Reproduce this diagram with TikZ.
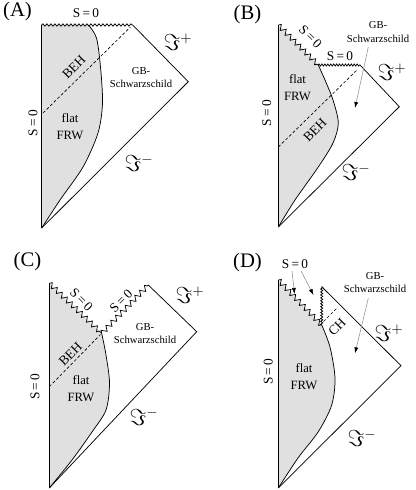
\documentclass[tikz,border=0pt]{standalone}
\usepackage{fontspec}
\setmainfont{Liberation Serif}
\usetikzlibrary{arrows.meta,decorations.pathmorphing}

\begin{document}
\begin{tikzpicture}[x=0.75pt,y=-0.75pt,>=latex,line width=0.55pt,
	frw/.style={fill=black!12},
	zacke/.style={decorate,decoration={zigzag,segment length=5.2pt,amplitude=1.9pt}},
	welle/.style={decorate,decoration={zigzag,segment length=2.2pt,amplitude=0.8pt}},
	schlange/.style={decorate,decoration={snake,segment length=3pt,amplitude=0.9pt}},
	horizont/.style={dash pattern=on 2.2pt off 1.6pt,line width=0.5pt},
	zeiger/.style={-{Latex[length=4.5pt,width=3pt,color=black]},draw=black!45,line width=0.4pt},
	txt/.style={font=\fontsize{8}{10}\selectfont,inner sep=0pt,align=center},
	lbl/.style={font=\fontsize{10}{12.5}\selectfont,inner sep=0pt,align=center},
	frwtxt/.style={font=\fontsize{9.5}{12.5}\selectfont,inner sep=0pt,align=center},
	titel/.style={font=\fontsize{15.5}{16}\selectfont,inner sep=0pt},
	scri/.style={font=\fontsize{16}{17}\selectfont,inner sep=0pt}]

\def\frw#1#2{
	\fill[frw] #1 -- plot[smooth] coordinates {#2} -- cycle;
	\draw plot[smooth] coordinates {#2};
}
\def\Snull{S\,=\,0}

\useasboundingbox (0,0) rectangle (415,490);

% Diagramm (A)
\coordinate (aB) at (41.7,228);
\coordinate (aT) at (41.7,25);
\coordinate (aK) at (132.7,25);
\coordinate (aR) at (188.3,81.7);

\frw{(aB) -- (aT) -- (88.5,25)}{(88.5,25) (96.5,38) (100.5,67) (102.5,103) (98,133) (83,167) (60,200) (41.7,228)}
\draw (aB) -- (aT);
\draw[schlange] (aT) -- (aK);
\draw (aK) -- (aR) -- (aB);
\draw[horizont] (43,113) -- (130.5,27);

\node[titel] (aTitel) at (17.5,12) {(A)};
\node[lbl] (aS) at (86,13) {\Snull};
\node[lbl,rotate=90] (aSl) at (33,123) {\Snull};
\node[lbl,rotate=45] (aBEH) at (74,67) {BEH};
\node[txt] (aGB) at (141,77.5) {GB-\\Schwarzschild};
\node[frwtxt] (aFRW) at (70,126.5) {flat\\FRW};
\node[scri] (aPlus) at (178,42) {$\Im^{+}$};
\node[scri] (aMinus) at (139,163) {$\Im^{-}$};

% Diagramm (B)
\coordinate (bB) at (278.3,227);
\coordinate (bT) at (278.3,25);
\coordinate (bK) at (318.3,65);
\coordinate (bE) at (360,65);
\coordinate (bR) at (399.3,106.7);

\frw{(bB) -- (bT) -- (bK)}{(318.3,65) (325,80) (333,100) (338.3,123) (333,143) (318.3,167) (295,200) (278.3,227)}
\draw (bB) -- (bT);
\draw[zacke] (bT) -- (bK);
\draw[welle] (bK) -- (bE);
\draw (bE) -- (bR) -- (bB);
\draw[horizont] (278.3,147) -- (357,70);

\node[titel] (bTitel) at (247.5,15) {(B)};
\node[lbl,rotate=-45] (bSd) at (310.5,36.5) {\Snull};
\node[lbl] (bS) at (340,56) {\Snull};
\node[lbl,rotate=90] (bSl) at (266.7,113) {\Snull};
\node[lbl,rotate=45] (bBEH) at (315,130) {BEH};
\node[txt] (bGB) at (378,32) {GB-\\Schwarzschild};
\node[frwtxt] (bFRW) at (297.5,87.5) {flat\\FRW};
\node[scri] (bPlus) at (392,72) {$\Im^{+}$};
\node[scri] (bMinus) at (356,172) {$\Im^{-}$};
\draw[zeiger] (368.3,47) -- (355,108);

% Diagramm (C)
\coordinate (cB) at (49.3,488);
\coordinate (cT) at (49.3,283.3);
\coordinate (cV) at (101.7,333.3);
\coordinate (cK) at (148.3,285);
\coordinate (cR) at (196.7,331.7);

\frw{(cB) -- (cT) -- (cV)}{(101.7,333.3) (106,355) (109.5,383) (106,410) (92,432) (72,460) (49.3,488)}
\draw (cB) -- (cT);
\draw[zacke] (cT) -- (cV);
\draw[zacke] (cV) -- (cK);
\draw (cK) -- (cR) -- (cB);
\draw[horizont] (49.3,386.7) -- (100.5,334.5);

\node[titel] (cTitel) at (27.5,261.7) {(C)};
\node[lbl,rotate=-45] (cSl) at (81.5,300) {\Snull};
\node[lbl,rotate=45] (cSr) at (121,301) {\Snull};
\node[lbl,rotate=90] (cSv) at (35,386.7) {\Snull};
\node[lbl,rotate=45] (cBEH) at (70.5,354) {BEH};
\node[txt] (cGB) at (145,333.3) {GB-\\Schwarzschild};
\node[frwtxt] (cFRW) at (81,388.3) {flat\\FRW};
\node[scri] (cPlus) at (190,295) {$\Im^{+}$};
\node[scri] (cMinus) at (144,416.7) {$\Im^{-}$};

% Diagramm (D)
\coordinate (dB) at (278.3,488);
\coordinate (dT) at (278.3,280);
\coordinate (dV) at (321.7,325);
\coordinate (dK) at (321.7,286.7);
\coordinate (dR) at (401,365.7);

\frw{(dB) -- (dT) -- (dV)}{(321.7,325) (330,347) (335,378) (331.7,405) (318.3,431.7) (298,458) (278.3,488)}
\draw (dB) -- (dT);
\draw[zacke] (dT) -- (dV);
\draw[welle] (dV) -- (dK);
\draw (dK) -- (dR) -- (dB);
\draw[horizont] (323.5,321.5) -- (338,307);

\node[titel] (dTitel) at (247.5,263) {(D)};
\node[lbl] (dS) at (295,264) {\Snull};
\node[lbl,rotate=90] (dSl) at (268.3,371.7) {\Snull};
\node[lbl,rotate=45] (dCH) at (337,327) {CH};
\node[txt] (dGB) at (375,282.5) {GB-\\Schwarzschild};
\node[frwtxt] (dFRW) at (304,376.7) {flat\\FRW};
\node[scri] (dPlus) at (389,333.3) {$\Im^{+}$};
\node[scri] (dMinus) at (362,438.3) {$\Im^{-}$};
\draw[zeiger] (292,271) -- (294.5,294);
\draw[zeiger] (301,271) -- (313.5,295);
\draw[zeiger] (368.3,298.3) -- (355,353.3);

\end{tikzpicture}
\end{document}
